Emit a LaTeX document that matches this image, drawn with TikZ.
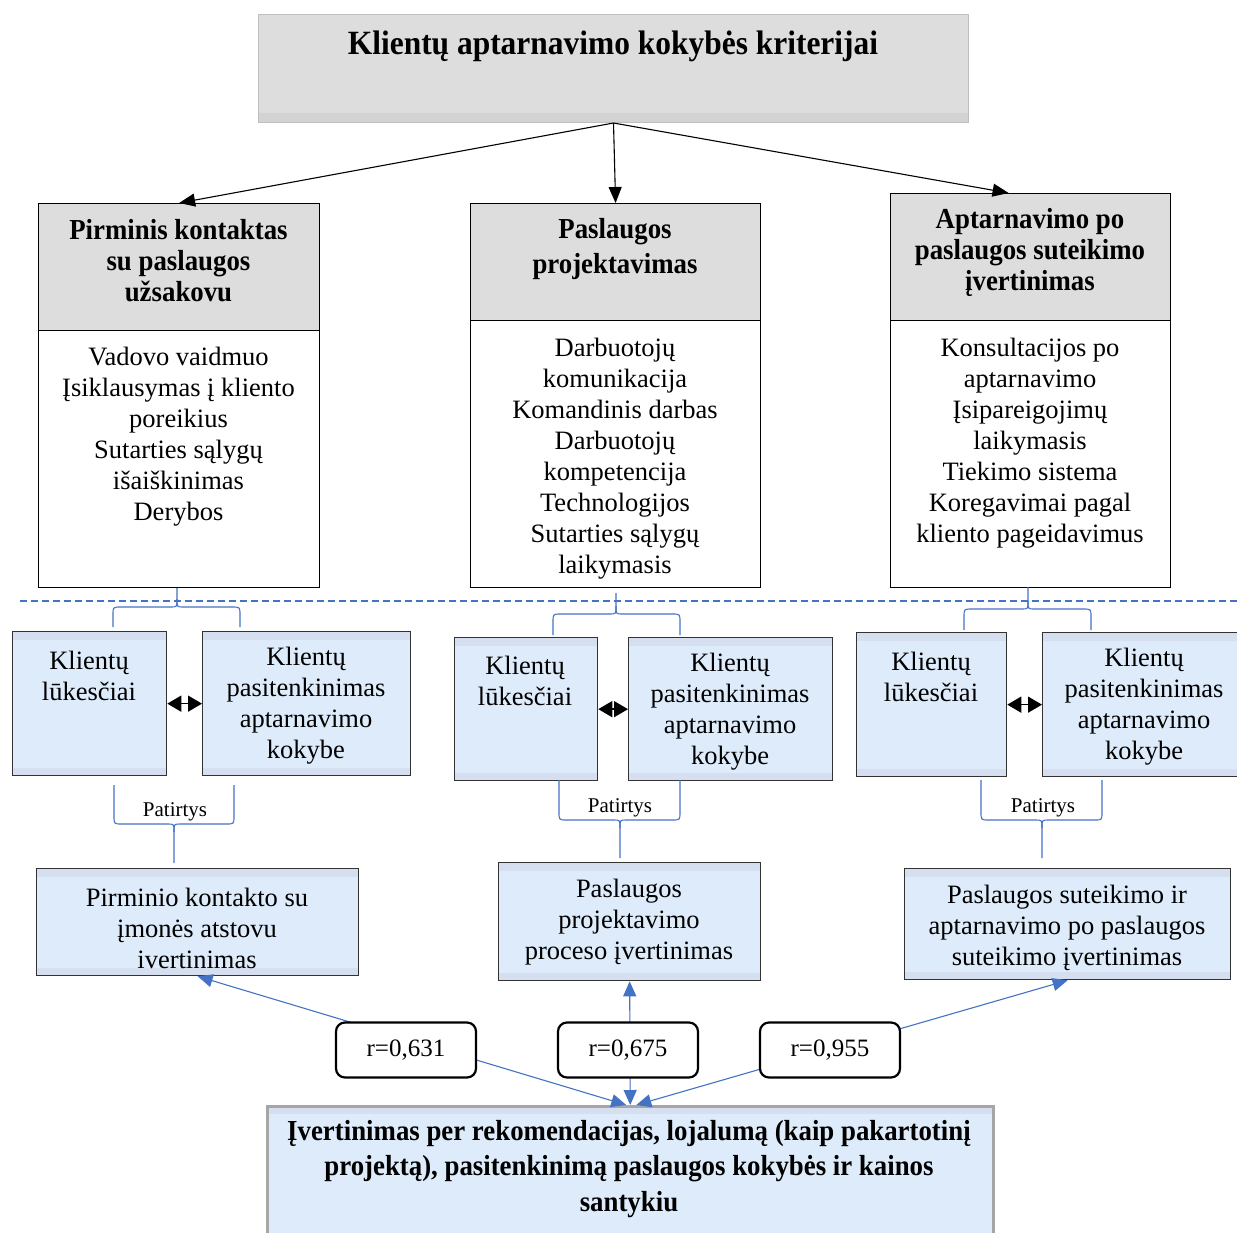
\documentclass[tikz,border=0pt]{standalone}
\usepackage{fontspec}
\setmainfont{Liberation Serif}[BoldFeatures={FakeStretch=0.925}]
\newfontfamily\rfont{Liberation Serif}
\usetikzlibrary{arrows.meta}
\definecolor{hdrgray}{HTML}{DDDDDD}
\definecolor{hdrstrip}{HTML}{D3D3D3}
\definecolor{bluefill}{HTML}{DDEBFA}
\definecolor{bluestrip}{HTML}{D5DFF0}
\definecolor{lineblue}{HTML}{4472C4}
\tikzset{
  grayhead/.style={draw=black, line width=1.2pt, fill=hdrgray, anchor=north west, inner sep=0pt},
  whitebody/.style={draw=black, line width=1.2pt, fill=white, anchor=north west, inner sep=0pt},
  bluebox/.style={draw=black!80, line width=1.3pt, fill=bluefill, anchor=north west, inner sep=0pt,
    path picture={\fill[bluestrip] (path picture bounding box.north west) rectangle ([yshift=-8pt]path picture bounding box.north east);
                  \fill[bluestrip] (path picture bounding box.south west) rectangle ([yshift=8pt]path picture bounding box.south east);}},
  bodytext/.style={inner sep=0pt, align=center, font=\fontsize{26.5}{31}\selectfont},
  headtext/.style={inner sep=0pt, align=center, font=\fontsize{29}{31}\selectfont\bfseries},
  smalltext/.style={inner sep=0pt, font=\fontsize{21}{26}\selectfont},
  rbox/.style={draw=black, line width=2.2pt, fill=white, rounded corners=9pt, minimum width=140pt, minimum height=55pt, inner sep=0pt, font=\rfont\fontsize{25}{30}\selectfont},
  toparrow/.style={draw=black, line width=1.1pt, -{Triangle[length=16pt,width=13pt]}},
  bluearrow/.style={draw=lineblue, line width=1.1pt, {Triangle[length=15pt,width=13pt]}-{Triangle[length=15pt,width=13pt]}},
  dblarrow/.style={draw=black, line width=1.5pt, {Triangle[length=14pt,width=16pt]}-{Triangle[length=14pt,width=16pt]}},
  brace/.style={draw=lineblue, line width=1.1pt}
}
\begin{document}
\begin{tikzpicture}[x=1pt,y=-1pt]
\useasboundingbox (0,0) rectangle (1237,1232);
\fill[white] (0,0) rectangle (1237,1232);

% top box
\node[draw=black!25, line width=1pt, fill=hdrgray, anchor=north west, minimum width=710pt, minimum height=108pt, inner sep=0pt,
  path picture={\fill[hdrstrip] (path picture bounding box.south west) rectangle ([yshift=10pt]path picture bounding box.south east);}] (top) at (258,14) {};
\node[inner sep=0pt, font=\fontsize{34}{40}\selectfont\bfseries] (toptext) at (613,46) {Klientų aptarnavimo kokybės kriterijai};

% column 1
\node[grayhead, minimum width=281pt, minimum height=127pt] (h1) at (38,203) {};
\node[whitebody, minimum width=281pt, minimum height=257pt] (b1) at (38,330) {};
\node[headtext] (h1t) at (178.5,261) {Pirminis kontaktas\\su paslaugos\\užsakovu};
\node[bodytext] (b1t) at (178.5,437) {Vadovo vaidmuo\\Įsiklausymas į kliento\\poreikius\\Sutarties sąlygų\\išaiškinimas\\Derybos};

% column 2
\node[grayhead, minimum width=290pt, minimum height=117pt] (h2) at (470,203) {};
\node[whitebody, minimum width=290pt, minimum height=267pt] (b2) at (470,320) {};
\node[headtext, font=\fontsize{29}{35}\selectfont\bfseries] (h2t) at (615,249) {Paslaugos\\projektavimas};
\node[bodytext] (b2t) at (615,459) {Darbuotojų\\komunikacija\\Komandinis darbas\\Darbuotojų\\kompetencija\\Technologijos\\Sutarties sąlygų\\laikymasis};

% column 3
\node[grayhead, minimum width=280pt, minimum height=127pt] (h3) at (890,193) {};
\node[whitebody, minimum width=280pt, minimum height=267pt] (b3) at (890,320) {};
\node[headtext] (h3t) at (1030,252) {Aptarnavimo po\\paslaugos suteikimo\\įvertinimas};
\node[bodytext] (b3t) at (1030,443) {Konsultacijos po\\aptarnavimo\\Įsipareigojimų\\laikymasis\\Tiekimo sistema\\Koregavimai pagal\\kliento pageidavimus};

% arrows from top
\draw[toparrow] (top.south) -- (h1.north);
\draw[toparrow] (top.south) -- (h2.north);
\draw[toparrow] (top.south) -- ([xshift=-22pt]h3.north);

% dashed line
\draw[lineblue, line width=1.3pt, dash pattern=on 7pt off 4pt] (20,601) -- (1237,601);

% top braces
\draw[brace] (113,627) -- (113,615) .. controls (113,607) .. (121,607) -- (171,607) .. controls (177,607) .. (177,599) -- (177,588);
\draw[brace] (240,627) -- (240,615) .. controls (240,607) .. (232,607) -- (183,607) .. controls (177,607) .. (177,599);
\draw[brace] (553,635) -- (553,622) .. controls (553,614) .. (561,614) -- (610,614) .. controls (616,614) .. (616,606) -- (616,593);
\draw[brace] (680,635) -- (680,622) .. controls (680,614) .. (672,614) -- (622,614) .. controls (616,614) .. (616,606);
\draw[brace] (964,630) -- (964,617) .. controls (964,609) .. (972,609) -- (1022,609) .. controls (1028,609) .. (1028,601) -- (1028,587);
\draw[brace] (1091,630) -- (1091,617) .. controls (1091,609) .. (1083,609) -- (1034,609) .. controls (1028,609) .. (1028,601);

% Klientu boxes column 1
\node[bluebox, minimum width=154pt, minimum height=144pt] (k1l) at (12,631) {};
\node[bluebox, minimum width=208pt, minimum height=144pt] (k1r) at (202,631) {};
\node[bodytext] (k1lt) at (89,676) {Klientų\\lūkesčiai};
\node[bodytext] (k1rt) at (306,706) {Klientų\\pasitenkinimas\\aptarnavimo\\kokybe};
\draw[dblarrow] (k1l.east) -- (k1r.west);

% column 2
\node[bluebox, minimum width=143pt, minimum height=143pt] (k2l) at (454,637) {};
\node[bluebox, minimum width=204pt, minimum height=143pt] (k2r) at (628,637) {};
\node[bodytext] (k2lt) at (525,681) {Klientų\\lūkesčiai};
\node[bodytext] (k2rt) at (730,712) {Klientų\\pasitenkinimas\\aptarnavimo\\kokybe};
\draw[dblarrow] (k2l.east) -- (k2r.west);

% column 3
\node[bluebox, minimum width=150pt, minimum height=144pt] (k3l) at (856,632) {};
\node[bluebox, minimum width=204pt, minimum height=144pt] (k3r) at (1042,632) {};
\node[bodytext] (k3lt) at (931,677) {Klientų\\lūkesčiai};
\node[bodytext] (k3rt) at (1144,707) {Klientų\\pasitenkinimas\\aptarnavimo\\kokybe};
\draw[dblarrow] (k3l.east) -- (k3r.west);

% bottom braces
\draw[brace] (114,785) -- (114,816) .. controls (114,824) .. (122,824) -- (168,824) .. controls (174,824) .. (174,832) -- (174,863);
\draw[brace] (234,785) -- (234,816) .. controls (234,824) .. (226,824) -- (180,824) .. controls (174,824) .. (174,832);
\node[smalltext] (p1) at (175,812) {Patirtys};
\draw[brace] (559,780) -- (559,812) .. controls (559,820) .. (567,820) -- (614,820) .. controls (620,820) .. (620,828) -- (620,858);
\draw[brace] (680,780) -- (680,812) .. controls (680,820) .. (672,820) -- (626,820) .. controls (620,820) .. (620,828);
\node[smalltext] (p2) at (620,808) {Patirtys};
\draw[brace] (981,780) -- (981,812) .. controls (981,820) .. (989,820) -- (1036,820) .. controls (1042,820) .. (1042,828) -- (1042,858);
\draw[brace] (1102,780) -- (1102,812) .. controls (1102,820) .. (1094,820) -- (1048,820) .. controls (1042,820) .. (1042,828);
\node[smalltext] (p3) at (1043,808) {Patirtys};

% evaluation boxes
\node[bluebox, minimum width=322pt, minimum height=107pt] (e1) at (36,868) {};
\node[bodytext] (e1t) at (197,928) {Pirminio kontakto su\\įmonės atstovu\\ivertinimas};
\node[bluebox, minimum width=262pt, minimum height=118pt] (e2) at (498,862) {};
\node[bodytext] (e2t) at (629,922) {Paslaugos\\projektavimo\\proceso įvertinimas};
\node[bluebox, minimum width=326pt, minimum height=111pt] (e3) at (904,868) {};
\node[bodytext] (e3t) at (1067,928) {Paslaugos suteikimo ir\\aptarnavimo po paslaugos\\suteikimo įvertinimas};

% bottom box
\node[bluebox, draw=black!35, line width=2.5pt, minimum width=726pt, minimum height=140pt] (bot) at (266,1105) {};
\node[inner sep=0pt, align=center, font=\fontsize{29}{35.5}\selectfont\bfseries] (bott) at (629,1169) {Įvertinimas per rekomendacijas, lojalumą (kaip pakartotinį\\projektą), pasitenkinimą paslaugos kokybės ir kainos\\santykiu};

% blue connectors
\draw[bluearrow] (e1.south) -- ([xshift=-4pt]bot.north);
\draw[bluearrow] (e2.south) -- (bot.north);
\draw[bluearrow] (e3.south) -- ([xshift=6pt]bot.north);

% r nodes
\node[rbox] (r1) at (406,1050) {r=0,631};
\node[rbox] (r2) at (628,1050) {r=0,675};
\node[rbox] (r3) at (830,1050) {r=0,955};
\end{tikzpicture}
\end{document}
